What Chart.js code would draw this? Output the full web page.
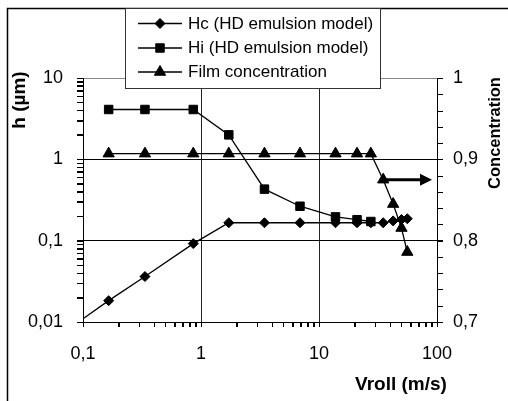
<!DOCTYPE html>
<html>
<head>
<meta charset="utf-8">
<script src="https://cdn.jsdelivr.net/npm/chart.js@4/dist/chart.umd.min.js"></script>
<style>
  html, body { margin: 0; padding: 0; background: #fff; }
  #wrap { width: 508px; height: 401px; position: relative; }
</style>
</head>
<body>
<div id="wrap"><canvas id="chart" width="508" height="401"></canvas></div>
<script>
// data
const vroll = [0.0833, 0.165, 0.335, 0.86, 1.72, 3.45, 6.9, 13.8, 21, 27.5, 35, 42.5, 50, 56];
const hc    = [0.0091, 0.0183, 0.0362, 0.092, 0.166, 0.166, 0.166, 0.166, 0.166, 0.166, 0.166, 0.175, 0.182, 0.186];
const hi    = [null, 4.1, 4.1, 4.1, 2.0, 0.43, 0.265, 0.196, 0.181, 0.172, null, null, null, null];
const film  = [null, 0.907, 0.907, 0.907, 0.907, 0.907, 0.907, 0.907, 0.907, 0.907, 0.875, 0.845, 0.8155, 0.786];

const seriesNames = ["Hc (HD emulsion model)", "Hi (HD emulsion model)", "Film concentration"];
const xTickLabels = ["0,1", "1", "10", "100"];
const yTickLabels = ["0,01", "0,1", "1", "10"];
const y2TickLabels = ["0,7", "0,8", "0,9", "1"];

const FONT = "'Liberation Sans', Arial, sans-serif";

function isDecade(v) {
  const l = Math.log10(v);
  return Math.abs(l - Math.round(l)) < 1e-6;
}
function decadeLabel(v, labels, firstExp) {
  if (!isDecade(v)) return "";
  return labels[Math.round(Math.log10(v)) - firstExp] || "";
}
// 1..9 in every decade
function logTicks(e0, e1) {
  const out = [];
  for (let e = e0; e < e1; e++) {
    for (let m = 1; m < 10; m++) out.push(parseFloat((m * Math.pow(10, e)).toPrecision(6)));
  }
  out.push(Math.pow(10, e1));
  return out;
}

function pts(ys) {
  return vroll.map((v, i) => ({ x: v, y: ys[i] }));
}

const markers = [
  { style: "rectRot", r: 5 },
  { style: "rect", r: 6 },
  { style: "triangle", r: 6.5 }
];

// minor + major tick marks, legend, titles, frame and the arrow
const extras = {
  id: "extras",
  beforeDraw(chart) {
    const c = chart.ctx;
    c.save();
    c.fillStyle = "#fff";
    c.fillRect(0, 0, chart.width, chart.height);
    c.restore();
  },
  afterDraw(chart) {
    const c = chart.ctx;
    const a = chart.chartArea;
    const sx = chart.scales.x, sy = chart.scales.y, sy2 = chart.scales.y2;
    c.save();

    // tick marks
    c.strokeStyle = "#000";
    c.lineWidth = 1;
    c.beginPath();
    logTicks(-1, 2).forEach(v => {
      const px = Math.round(sx.getPixelForValue(v)) + 0.5;
      c.moveTo(px, a.bottom);
      c.lineTo(px, a.bottom + 5);
    });
    logTicks(-2, 1).forEach(v => {
      const py = Math.round(sy.getPixelForValue(v)) + 0.5;
      c.moveTo(a.left - 6, py);
      c.lineTo(a.left, py);
    });
    for (let k = 0; k <= 15; k++) {
      const py = Math.round(sy2.getPixelForValue(0.7 + k * 0.02)) + 0.5;
      c.moveTo(a.right, py);
      c.lineTo(a.right + 6, py);
    }
    c.stroke();

    // outer frame (only top/left visible)
    c.lineWidth = 1.5;
    c.beginPath();
    c.moveTo(7.5, chart.height);
    c.lineTo(7.5, 8.5);
    c.lineTo(chart.width, 8.5);
    c.stroke();

    // arrow pointing to the right axis
    const ay = sy2.getPixelForValue(0.875);
    const ax0 = sx.getPixelForValue(37);
    const ax1 = a.right - 5;
    c.lineWidth = 3;
    c.beginPath();
    c.moveTo(ax0, ay);
    c.lineTo(ax1 - 8, ay);
    c.stroke();
    c.fillStyle = "#000";
    c.beginPath();
    c.moveTo(ax1, ay);
    c.lineTo(ax1 - 12, ay - 6);
    c.lineTo(ax1 - 12, ay + 6);
    c.closePath();
    c.fill();

    // legend box
    c.fillStyle = "#fff";
    c.fillRect(125, 8, 255, 80);
    c.strokeStyle = "#333";
    c.lineWidth = 1;
    c.strokeRect(125.5, 8.5, 255, 80);
    const rows = [23.5, 48, 72];
    markers.forEach((mk, i) => {
      const y = rows[i];
      c.strokeStyle = "#000";
      c.fillStyle = "#000";
      c.lineWidth = 1.3;
      c.beginPath();
      c.moveTo(138, y);
      c.lineTo(182, y);
      c.stroke();
      c.lineWidth = 1;
      Chart.helpers.drawPoint(c, { pointStyle: mk.style, radius: mk.r, borderWidth: 1, rotation: 0 }, 160, y);
      c.font = "17px " + FONT;
      c.textBaseline = "middle";
      c.textAlign = "left";
      c.fillText(seriesNames[i], 188, y + 0.5);
    });

    // axis titles
    c.fillStyle = "#000";
    c.textAlign = "center";
    c.textBaseline = "middle";
    c.font = "bold 19px " + FONT;
    c.fillText("Vroll (m/s)", 401, 385);
    c.save();
    c.translate(20, 100);
    c.rotate(-Math.PI / 2);
    c.fillText("h (µm)", 0, 0);
    c.restore();
    c.font = "bold 16.5px " + FONT;
    c.save();
    c.translate(495, 133);
    c.rotate(-Math.PI / 2);
    c.fillText("Concentration", 0, 0);
    c.restore();

    c.restore();
  }
};

const lineStyle = {
  borderColor: "#000",
  backgroundColor: "#000",
  pointBorderColor: "#000",
  pointBackgroundColor: "#000",
  borderWidth: 1.3,
  pointBorderWidth: 1,
  pointHoverRadius: 0,
  tension: 0
};

new Chart(document.getElementById("chart"), {
  type: "line",
  data: {
    datasets: [
      Object.assign({}, lineStyle, {
        label: seriesNames[0], data: pts(hc), yAxisID: "y",
        pointStyle: markers[0].style, pointRadius: ctx => ctx.dataIndex === 0 ? 0 : markers[0].r
      }),
      Object.assign({}, lineStyle, {
        label: seriesNames[1], data: pts(hi), yAxisID: "y",
        pointStyle: markers[1].style, pointRadius: markers[1].r
      }),
      Object.assign({}, lineStyle, {
        label: seriesNames[2], data: pts(film), yAxisID: "y2",
        pointStyle: markers[2].style, pointRadius: markers[2].r
      })
    ]
  },
  options: {
    responsive: false,
    animation: false,
    events: [],
    layout: { padding: { top: 78, left: 0, right: 0, bottom: 0 } },
    plugins: { legend: { display: false }, tooltip: { enabled: false } },
    scales: {
      x: {
        type: "logarithmic", position: "bottom", min: 0.1, max: 100,
        afterBuildTicks: s => { s.ticks = logTicks(-1, 2).map(v => ({ value: v })); },
        afterFit: s => { s.height = 79; },
        border: { display: true, color: "#000", width: 1 },
        grid: {
          color: ctx => (ctx.tick && isDecade(ctx.tick.value)) ? "#222" : "rgba(0,0,0,0)",
          tickColor: "#000", tickLength: 5, lineWidth: 1
        },
        ticks: {
          autoSkip: false, maxRotation: 0, padding: 16, color: "#000",
          font: { family: FONT, size: 18 },
          callback: v => decadeLabel(v, xTickLabels, -1)
        }
      },
      y: {
        type: "logarithmic", position: "left", min: 0.01, max: 10,
        afterBuildTicks: s => { s.ticks = logTicks(-2, 1).map(v => ({ value: v })); },
        afterFit: s => { s.width = 83; },
        border: { display: true, color: "#000", width: 1 },
        grid: {
          color: ctx => {
            if (!ctx.tick || !isDecade(ctx.tick.value)) return "rgba(0,0,0,0)";
            return ctx.tick.value > 5 ? "#888" : "#000";
          },
          tickColor: "#000", tickLength: 6, lineWidth: 1
        },
        ticks: {
          autoSkip: false, padding: 14, color: "#000",
          font: { family: FONT, size: 18 },
          callback: v => decadeLabel(v, yTickLabels, -2)
        }
      },
      y2: {
        type: "linear", position: "right", min: 0.7, max: 1,
        afterFit: s => { s.width = 71; },
        border: { display: true, color: "#000", width: 1 },
        grid: { drawOnChartArea: false, color: "#000", tickColor: "#000", tickLength: 6 },
        ticks: {
          stepSize: 0.1, autoSkip: false, padding: 10, color: "#000",
          font: { family: FONT, size: 18 },
          callback: v => {
            const k = Math.round((v - 0.7) * 10 * 1000) / 1000;
            return Number.isInteger(k) ? y2TickLabels[k] : "";
          }
        }
      }
    }
  },
  plugins: [extras]
});
</script>
</body>
</html>
